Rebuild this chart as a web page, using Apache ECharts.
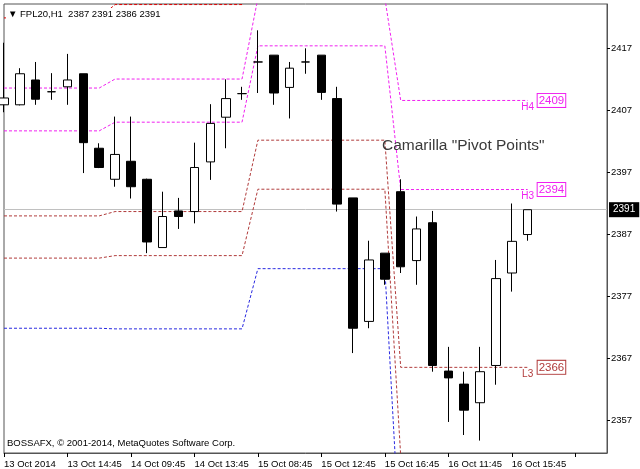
<!DOCTYPE html>
<html>
<head>
<meta charset="utf-8">
<script src="https://cdn.jsdelivr.net/npm/echarts@6/dist/echarts.min.js"></script>
<style>
  html, body { margin: 0; padding: 0; background: #fff; }
  #chart { width: 640px; height: 469px; }
</style>
</head>
<body>
<div id="chart"></div>
<script>
// bar times (H1), blanks pad the empty space at the right of the chart
const categories = [
  '13 Oct 2014', '13 Oct 11:45', '13 Oct 12:45', '13 Oct 13:45', '13 Oct 14:45', '13 Oct 15:45', '13 Oct 16:45',
  '14 Oct 08:45', '14 Oct 09:45', '14 Oct 10:45', '14 Oct 11:45', '14 Oct 12:45', '14 Oct 13:45', '14 Oct 14:45', '14 Oct 15:45', '14 Oct 16:45',
  '15 Oct 08:45', '15 Oct 09:45', '15 Oct 10:45', '15 Oct 11:45', '15 Oct 12:45', '15 Oct 13:45', '15 Oct 14:45', '15 Oct 15:45', '15 Oct 16:45',
  '16 Oct 08:45', '16 Oct 09:45', '16 Oct 10:45', '16 Oct 11:45', '16 Oct 12:45', '16 Oct 13:45', '16 Oct 14:45', '16 Oct 15:45', '16 Oct 16:45',
  '', '', '', '', ''
]

const opens  = [2407.9, 2407.9, 2411.9, 2410.0, 2410.8, 2412.9, 2400.9, 2395.9, 2398.8, 2395.9, 2384.9, 2390.8, 2390.7, 2398.7, 2405.9, 2409.7, 2414.8, 2415.9, 2410.7, 2414.8, 2415.9, 2408.9, 2392.9, 2373.0, 2384.0, 2393.9, 2382.8, 2388.9, 2365.0, 2362.9, 2359.9, 2365.9, 2380.8, 2387]
const highs  = [2417.9, 2413.8, 2414.8, 2413.0, 2416.1, 2412.9, 2401.7, 2406.0, 2406.0, 2396.0, 2393.9, 2392.9, 2401.8, 2408.0, 2412.0, 2410.8, 2419.9, 2415.9, 2414.8, 2417.0, 2415.9, 2410.8, 2392.9, 2386.0, 2384.0, 2395.9, 2389.9, 2390.8, 2368.9, 2364.9, 2368.9, 2382.9, 2392.0, 2391]
const lows   = [2406.7, 2407.8, 2407.9, 2408.7, 2407.9, 2396.9, 2397.7, 2394.7, 2392.8, 2384.0, 2384.9, 2387.9, 2388.8, 2395.8, 2400.9, 2408.7, 2409.8, 2407.9, 2405.7, 2412.9, 2408.7, 2390.7, 2367.9, 2371.9, 2378.9, 2380.8, 2378.9, 2364.9, 2356.8, 2354.7, 2353.8, 2362.8, 2377.8, 2386]
const closes = [2409.0, 2412.9, 2408.8, 2410.0, 2411.9, 2401.8, 2397.8, 2399.9, 2394.7, 2385.8, 2389.9, 2389.9, 2397.8, 2404.9, 2408.9, 2409.7, 2414.8, 2409.8, 2413.8, 2414.8, 2409.9, 2391.9, 2371.9, 2382.9, 2379.8, 2381.8, 2387.9, 2365.9, 2363.9, 2358.7, 2364.9, 2379.9, 2385.9, 2391]

// Camarilla levels, one value per trading day
const dayStarts = [0, 7, 16, 25]
const dayEnds = [6, 15, 24, 33]
const levelH5 = [2421.9, 2424.05, 2437.9, 2424.9]
const levelH4 = [2410.6, 2412.05, 2425.1, 2408.6]
const levelH3 = [2403.7, 2405.1, 2417.4, 2394.25]
const levelL3 = [2390.0, 2390.7, 2402.2, 2365.6]
const levelL4 = [2383.2, 2383.6, 2394.3, 2351.3]
const levelL5 = [2371.9, 2371.8, 2381.5, 2335.0]

const levelNames = ['H5', 'H4', 'H3', 'L3', 'L4', 'L5']
const levelColors = ['#e00000', '#f020f0', '#f020f0', '#b03a3a', '#b03a3a', '#2828e0']
const levelTags = [null, '2409', '2394', '2366', null, null]

const yTicks = [2357, 2367, 2377, 2387, 2397, 2407, 2417]
const lastPrice = 2391

const FONT = '"Liberation Sans", Arial, sans-serif'

const stepLine = (levels) => {
  const out = []
  dayStarts.forEach((start, d) => {
    for (let i = start; i <= dayEnds[d]; i++) out[i] = levels[d]
  })
  return out
}

const candleData = opens.map((o, i) => [o, closes[i], lows[i], highs[i]])
const lastIdx = opens.length - 1

const levelSeries = [levelH5, levelH4, levelH3, levelL3, levelL4, levelL5].map((levels, k) => {
  const data = stepLine(levels)
  const s = {
    name: levelNames[k],
    type: 'line',
    data,
    z: 1,
    showSymbol: false,
    silent: true,
    lineStyle: { color: levelColors[k], width: 1, type: [3, 2] },
  }
  if (levelTags[k]) {
    s.endLabel = {
      show: true,
      formatter: levelTags[k],
      distance: 10,
      color: levelColors[k],
      fontFamily: FONT,
      fontSize: 11.5,
      backgroundColor: '#fff',
      borderColor: levelColors[k],
      borderWidth: 1,
      padding: [1, 1, 0, 1],
    }
    s.markPoint = {
      symbol: 'circle',
      symbolSize: 1,
      itemStyle: { color: 'rgba(0,0,0,0)' },
      data: [{ coord: [lastIdx, data[lastIdx]] }],
      label: {
        show: true,
        position: 'bottom',
        distance: 1,
        formatter: levelNames[k],
        color: levelColors[k],
        fontFamily: FONT,
        fontSize: 10,
      },
    }
  }
  return s
})

const chart = echarts.init(document.getElementById('chart'))

chart.setOption({
  backgroundColor: '#ffffff',
  animation: false,
  title: [
    {
      text: `▼ FPL20,H1  ${opens[lastIdx]} ${highs[lastIdx]} ${lows[lastIdx]} ${closes[lastIdx]}`,
      left: 6,
      top: 8,
      padding: [1, 2],
      backgroundColor: '#fff',
      textStyle: { fontFamily: FONT, fontSize: 9.5, fontWeight: 'normal', color: '#000' },
    },
    {
      text: 'BOSSAFX, © 2001-2014, MetaQuotes Software Corp.',
      left: 7,
      top: 438,
      padding: 0,
      textStyle: { fontFamily: FONT, fontSize: 9.5, fontWeight: 'normal', color: '#000' },
    },
    {
      text: 'Camarilla "Pivot Points"',
      left: 382,
      top: 138,
      padding: 0,
      textStyle: { fontFamily: FONT, fontSize: 15.5, fontWeight: 'normal', color: '#3a3a3a' },
    },
  ],
  grid: {
    left: 4,
    right: 33,
    top: 4,
    bottom: 16,
    show: true,
    borderColor: '#555',
    borderWidth: 1,
  },
  xAxis: {
    type: 'category',
    data: categories,
    boundaryGap: false,
    axisLine: { lineStyle: { color: '#555' } },
    axisTick: { interval: 3, length: 4, lineStyle: { color: '#000' } },
    axisLabel: {
      interval: 3,
      align: 'left',
      margin: 6,
      color: '#000',
      fontFamily: FONT,
      fontSize: 9.5,
    },
    splitLine: { show: false },
  },
  yAxis: {
    type: 'value',
    position: 'right',
    min: 2351.8,
    max: 2424.14,
    scale: true,
    axisLine: { show: true, lineStyle: { color: '#555' } },
    axisTick: { show: true, length: 3, customValues: yTicks, lineStyle: { color: '#000' } },
    axisLabel: {
      customValues: yTicks,
      formatter: (v) => String(v),
      margin: 4,
      color: '#000',
      fontFamily: FONT,
      fontSize: 9.5,
    },
    splitLine: { show: false },
  },
  series: [
    ...levelSeries,
    {
      type: 'candlestick',
      data: candleData,
      z: 3,
      barWidth: 9,
      itemStyle: {
        color: '#ffffff',
        color0: '#000000',
        borderColor: '#000000',
        borderColor0: '#000000',
        borderWidth: 1,
      },
      markLine: {
        symbol: 'none',
        silent: true,
        z: 0,
        data: [{ yAxis: lastPrice }],
        lineStyle: { color: '#c0c0c0', type: 'solid', width: 1 },
        label: {
          position: 'end',
          distance: 2,
          formatter: String(lastPrice),
          color: '#fff',
          backgroundColor: '#000',
          padding: [3, 4, 2, 4],
          fontFamily: FONT,
          fontSize: 10,
        },
      },
    },
  ],
})
</script>
</body>
</html>
